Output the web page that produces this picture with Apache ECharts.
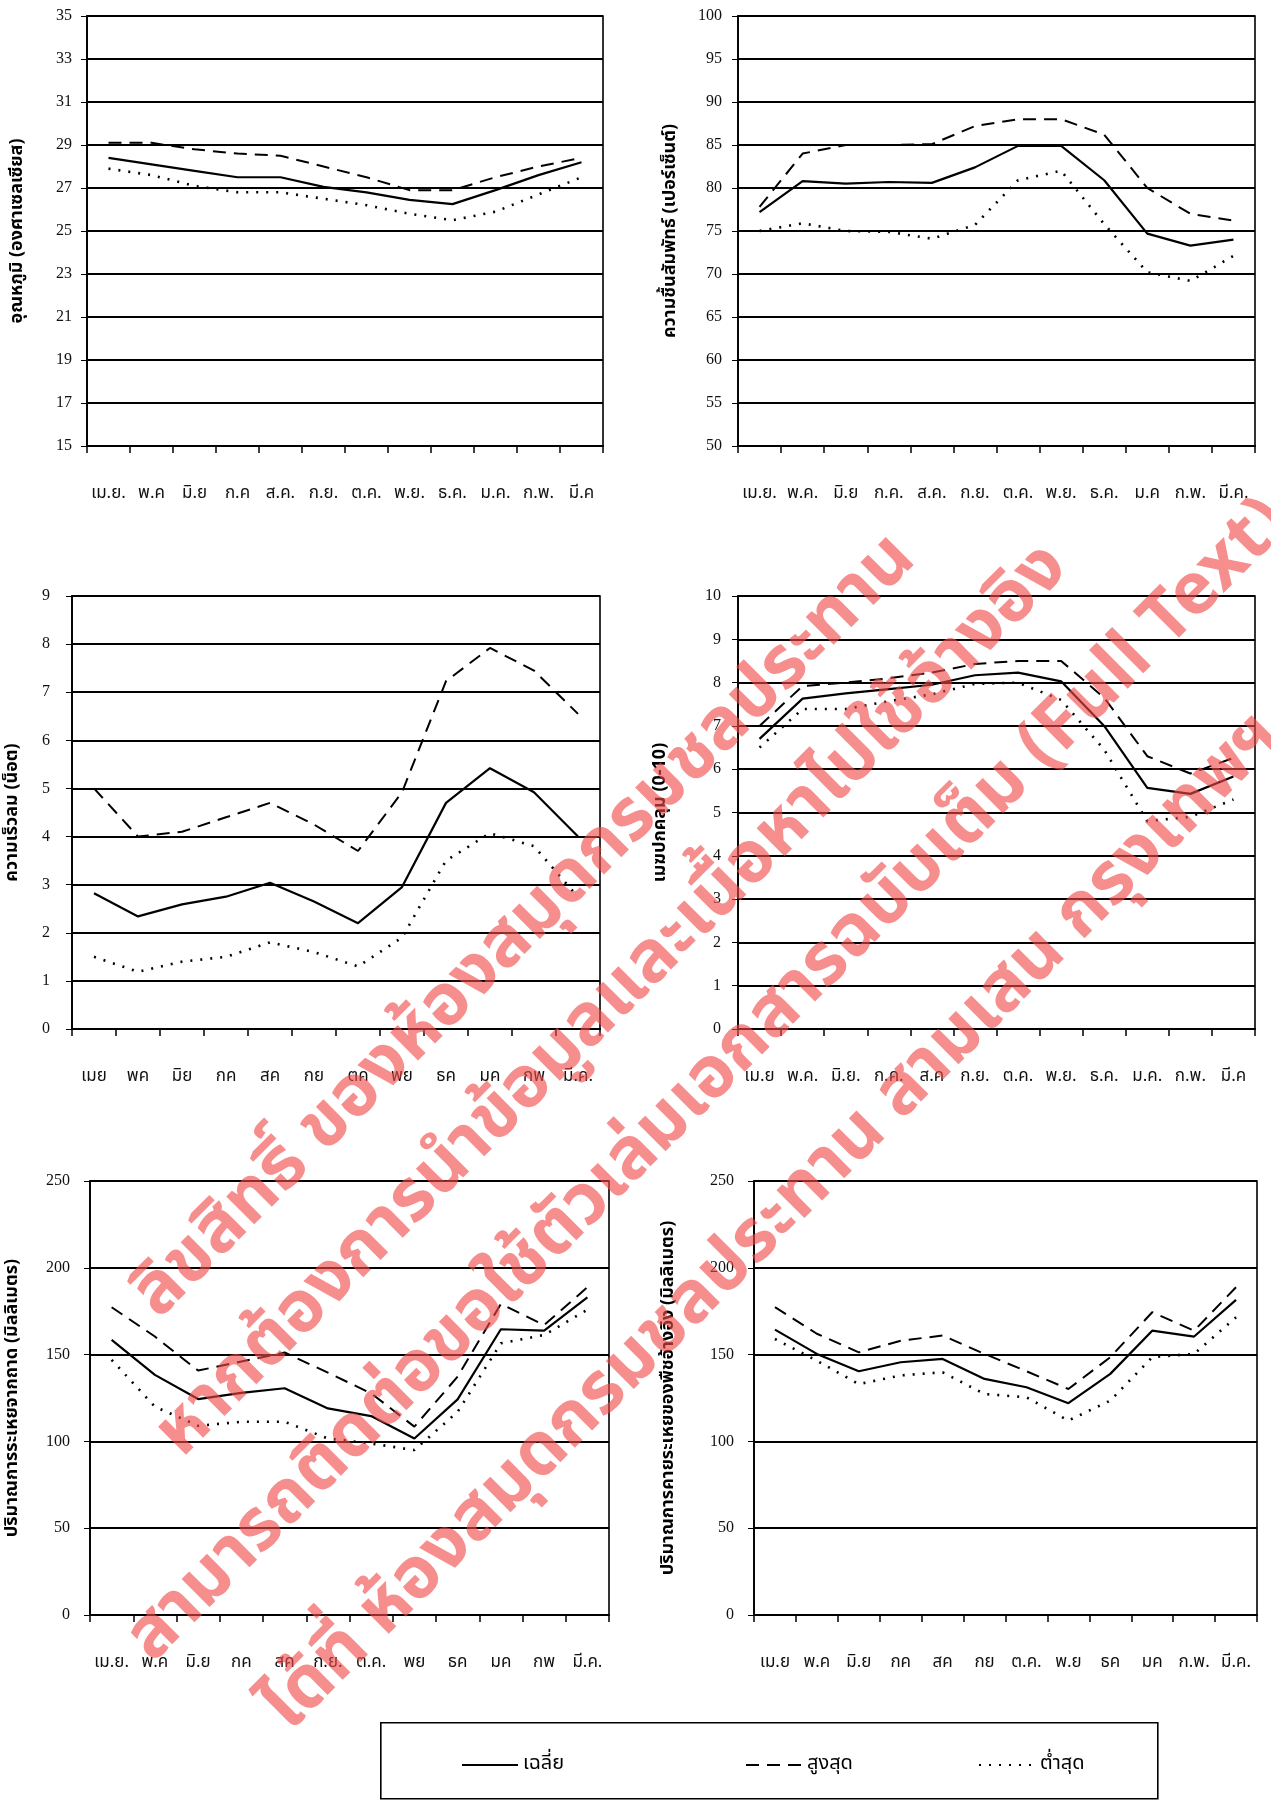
<!DOCTYPE html>
<html>
<head>
<meta charset="utf-8">
<script src="https://cdn.jsdelivr.net/npm/echarts@6.0.0/dist/echarts.min.js"></script>
<style>
  html, body { margin: 0; padding: 0; background: #fff; }
  #main { width: 1271px; height: 1803px; }
</style>
</head>
<body>
<div id="main"></div>
<script>
// เดือน (แต่ละกราฟเขียนชื่อเดือนไม่เหมือนกัน)
var months1 = ['เม.ย.', 'พ.ค', 'มิ.ย', 'ก.ค', 'ส.ค.', 'ก.ย.', 'ต.ค.', 'พ.ย.', 'ธ.ค.', 'ม.ค.', 'ก.พ.', 'มี.ค'];
var months2 = ['เม.ย.', 'พ.ค.', 'มิ.ย', 'ก.ค.', 'ส.ค.', 'ก.ย.', 'ต.ค.', 'พ.ย.', 'ธ.ค.', 'ม.ค', 'ก.พ.', 'มี.ค.'];
var months3 = ['เมย', 'พค', 'มิย', 'กค', 'สค', 'กย', 'ตค', 'พย', 'ธค', 'มค', 'กพ', 'มี.ค.'];
var months4 = ['เม.ย', 'พ.ค.', 'มิ.ย.', 'ก.ค.', 'ส.ค', 'ก.ย.', 'ต.ค.', 'พ.ย.', 'ธ.ค.', 'ม.ค.', 'ก.พ.', 'มี.ค'];
var months5 = ['เม.ย.', 'พ.ค', 'มิ.ย', 'กค', 'สค', 'ก.ย.', 'ต.ค.', 'พย', 'ธค', 'มค', 'กพ', 'มี.ค.'];
var months6 = ['เม.ย', 'พ.ค', 'มิ.ย', 'กค', 'สค', 'กย', 'ต.ค.', 'พ.ย', 'ธค', 'มค', 'ก.พ.', 'มี.ค.'];

var seriesNames = ['เฉลี่ย', 'สูงสุด', 'ต่ำสุด'];

// อุณหภูมิ
var tempAvg = [28.4, 28.1, 27.8, 27.5, 27.5, 27.05, 26.8, 26.45, 26.25, 26.9, 27.6, 28.2];
var tempMax = [29.1, 29.1, 28.8, 28.6, 28.5, 28.0, 27.5, 26.9, 26.9, 27.5, 28.0, 28.4];
var tempMin = [27.9, 27.6, 27.1, 26.8, 26.8, 26.5, 26.2, 25.8, 25.5, 25.9, 26.7, 27.5];

// ความชื้นสัมพัทธ์
var humAvg = [77.2, 80.8, 80.5, 80.7, 80.6, 82.4, 84.9, 84.9, 80.9, 74.7, 73.3, 74.0];
var humMax = [77.8, 84.0, 85.0, 85.0, 85.1, 87.2, 88.0, 88.0, 86.2, 80.0, 77.0, 76.2];
var humMin = [75.0, 75.9, 75.0, 74.9, 74.1, 75.7, 80.9, 82.0, 75.8, 70.2, 69.2, 72.1];

// ความเร็วลม
var windAvg = [2.82, 2.34, 2.59, 2.75, 3.04, 2.65, 2.2, 2.95, 4.7, 5.42, 4.92, 4.0];
var windMax = [5.0, 4.0, 4.1, 4.4, 4.7, 4.25, 3.7, 4.92, 7.23, 7.92, 7.45, 6.55];
var windMin = [1.5, 1.19, 1.4, 1.5, 1.8, 1.6, 1.3, 1.9, 3.5, 4.07, 3.8, 2.74];

// เมฆปกคลุม
var cloudAvg = [6.7, 7.63, 7.75, 7.85, 7.95, 8.17, 8.23, 8.03, 7.0, 5.57, 5.43, 5.83];
var cloudMax = [7.0, 7.92, 8.0, 8.1, 8.23, 8.43, 8.5, 8.5, 7.65, 6.3, 5.9, 6.26];
var cloudMin = [6.5, 7.39, 7.39, 7.57, 7.73, 7.97, 8.0, 7.6, 6.45, 4.8, 4.9, 5.3];

// การระเหยจากถาด
var panAvg = [158.5, 138.3, 124.4, 128, 130.6, 119, 114.6, 101.7, 124.2, 164.6, 163.8, 183];
var panMax = [177.3, 160.4, 140.8, 146, 151.2, 139.6, 127.7, 108.5, 137.3, 179.2, 167, 188.8];
var panMin = [147, 120, 109, 111.3, 111.3, 101.7, 98.8, 95, 117, 156.5, 161.3, 175.8];

// การคายระเหยของพืชอ้างอิง
var etAvg = [164.4, 150.4, 140.4, 145.6, 147.5, 136, 131.2, 122, 138.9, 163.8, 160.4, 181.5];
var etMax = [177.3, 162, 151.3, 158, 161, 150.4, 140.4, 130.2, 148.5, 174.4, 163.8, 188.8];
var etMin = [159, 146.5, 133, 138, 139.8, 127.3, 125.4, 112, 123.5, 148.5, 150.4, 171.5];

var thaiFont = "'Noto Sans Thai','Loma','Garuda','Tahoma','Liberation Sans',sans-serif";
var numFont = "'Liberation Serif','DejaVu Serif',serif";

// ตำแหน่งกราฟทั้ง 6 รูป
var panels = [
  { left: 87, top: 16, width: 516, height: 430, min: 15, max: 35, step: 2, title: 'อุณหภูมิ (องศาเซลเซียส)', gap: 60, lm: 15, months: months1, data: [tempAvg, tempMax, tempMin] },
  { left: 738, top: 16, width: 517, height: 430, min: 50, max: 100, step: 5, title: 'ความชื้นสัมพัทธ์ (เปอร์เซ็นต์)', gap: 58, lm: 16, months: months2, data: [humAvg, humMax, humMin] },
  { left: 72, top: 596, width: 528, height: 433, min: 0, max: 9, step: 1, title: 'ความเร็วลม (น็อต)', gap: 50, lm: 22, months: months3, data: [windAvg, windMax, windMin] },
  { left: 738, top: 596, width: 517, height: 433, min: 0, max: 10, step: 1, title: 'เมฆปกคลุม (0-10)', gap: 68, lm: 17, months: months4, data: [cloudAvg, cloudMax, cloudMin] },
  { left: 90, top: 1181, width: 519, height: 434, min: 0, max: 250, step: 50, title: 'ปริมาณการระเหยจากถาด (มิลลิเมตร)', gap: 68, lm: 20, months: months5, data: [panAvg, panMax, panMin] },
  { left: 754, top: 1181, width: 503, height: 434, min: 0, max: 250, step: 50, title: 'ปริมาณการคายระเหยของพืชอ้างอิง (มิลลิเมตร)', gap: 76, lm: 20, months: months6, data: [etAvg, etMax, etMin] }
];

var lineStyles = [
  { color: '#000', width: 2.2, type: 'solid' },
  { color: '#000', width: 2, type: [13, 8] },
  { color: '#000', width: 2.6, type: [2, 8] }
];

var grids = [], xAxes = [], yAxes = [], seriesList = [];
panels.forEach(function (p, i) {
  grids.push({ left: p.left, top: p.top, width: p.width, height: p.height, show: true, borderColor: '#000', borderWidth: 1.6, backgroundColor: 'transparent' });
  xAxes.push({
    type: 'category', gridIndex: i, data: p.months, boundaryGap: true,
    axisLine: { lineStyle: { color: '#000', width: 1.8 } },
    axisTick: { show: true, inside: false, length: 7, interval: 0, lineStyle: { color: '#000', width: 1.5 } },
    axisLabel: { interval: 0, margin: 40, color: '#111', fontSize: 17, fontFamily: thaiFont },
    splitLine: { show: false }
  });
  yAxes.push({
    type: 'value', gridIndex: i, min: p.min, max: p.max, interval: p.step,
    name: p.title, nameLocation: 'middle', nameRotate: 90, nameGap: p.gap,
    nameTextStyle: { fontSize: 18, fontWeight: 'bold', color: '#000', fontFamily: thaiFont },
    axisLine: { show: true, lineStyle: { color: '#000', width: 1.8 } },
    axisTick: { show: true, inside: false, length: 6, lineStyle: { color: '#000' } },
    axisLabel: { margin: p.lm, color: '#111', fontSize: 16, fontFamily: numFont },
    splitLine: { show: true, lineStyle: { color: '#000', width: 1.8 } }
  });
  p.data.forEach(function (arr, k) {
    seriesList.push({
      name: seriesNames[k], type: 'line', xAxisIndex: i, yAxisIndex: i,
      data: arr, symbol: 'none', showSymbol: false, smooth: false,
      lineStyle: lineStyles[k], itemStyle: { color: '#000' }, z: 3
    });
  });
});

// ข้อความลายน้ำ
var wmFont = "bold 72px 'Noto Sans Thai','Loma','Garuda','Tahoma',sans-serif";
var wmColor = 'rgba(242,72,72,0.62)';
var watermark = [
  { text: 'ลิขสิทธิ์ ของห้องสมุดกรมชลประทาน', x: 528, y: 930 },
  { text: 'หากต้องการนำข้อมูลและเนื้อหาไปใช้อ้างอิง', x: 616, y: 1004 },
  { text: 'สามารถติดต่อขอใช้ตัวเล่มเอกสารฉบับเต็ม (Full Text)', x: 712, y: 1084 },
  { text: 'ได้ที่ ห้องสมุดกรมชลประทาน สามเสน กรุงเทพฯ', x: 776, y: 1226 }
];

var graphics = [{
  type: 'rect', left: 380, top: 1722, z: 1,
  shape: { width: 777, height: 76 },
  style: { fill: 'transparent', stroke: '#000', lineWidth: 1.6 }
}];
watermark.forEach(function (w) {
  graphics.push({
    type: 'text', x: w.x, y: w.y, rotation: Math.PI / 4, z: 100, silent: true,
    style: { text: w.text, font: wmFont, fill: wmColor, align: 'center', verticalAlign: 'middle' }
  });
});

var legendPos = [456, 740, 973];
var legends = seriesNames.map(function (n, k) {
  return {
    data: [n], left: legendPos[k], top: 1750, orient: 'horizontal',
    itemWidth: 56, itemHeight: 14, itemGap: 10, selectedMode: false,
    itemStyle: { opacity: 0 },
    textStyle: { fontSize: 20, color: '#000', fontFamily: thaiFont }
  };
});

var myChart = echarts.init(document.getElementById('main'));
option = {
  animation: false,
  backgroundColor: '#fff',
  legend: legends,
  grid: grids,
  xAxis: xAxes,
  yAxis: yAxes,
  series: seriesList,
  graphic: graphics
};
myChart.setOption(option, true);
window.addEventListener("resize", function () {
  myChart.resize();
});
</script>
</body>
</html>
